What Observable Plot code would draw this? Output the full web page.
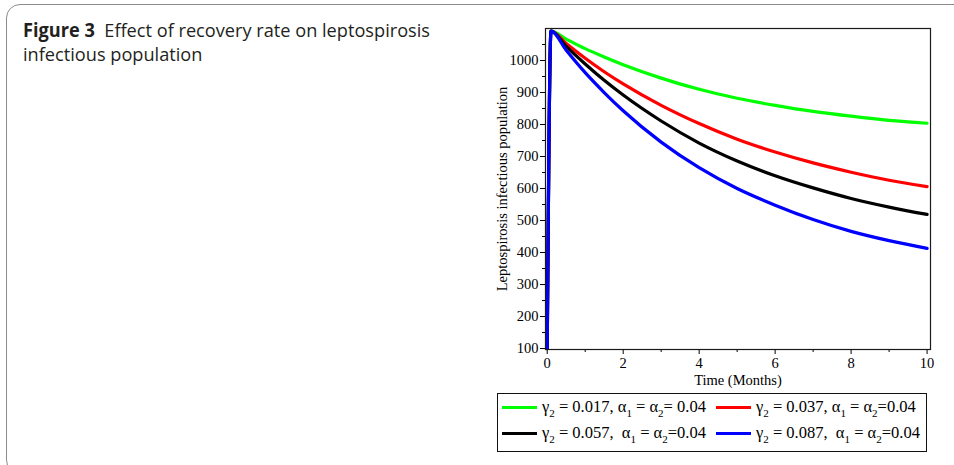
<!DOCTYPE html>
<html>
<head>
<meta charset="utf-8">
<script src="https://cdn.jsdelivr.net/npm/d3@7"></script>
<script src="https://cdn.jsdelivr.net/npm/@observablehq/plot@0.6"></script>
<style>
  html, body { margin: 0; padding: 0; background: #fff; }
  body { width: 954px; height: 465px; overflow: hidden; position: relative; }
  #card { position: absolute; left: 6px; top: 4px; width: 1000px; height: 470px;
          border: 1px solid #8c8c8c; border-radius: 14px; box-sizing: border-box; }
  #title { position: absolute; left: 23px; top: 18px; font-family: "Open Sans", sans-serif;
           font-size: 19px; line-height: 24px; color: #231f20; white-space: nowrap; transform-origin: left top; }
  #title b { font-weight: 700; }
  #chart { position: absolute; left: 470px; top: 0px; }
  #legend { position: absolute; left: 497px; top: 393px; width: 430px; height: 59px;
            border: 1.3px solid #111; box-sizing: border-box; font-family: "Liberation Serif", serif;
            font-size: 16.5px; color: #000; }
  .swatch { position: absolute; height: 3px; width: 35px; }
  .lab { position: absolute; line-height: 16px; white-space: nowrap; }
  .lab sub { font-size: 11px; vertical-align: -5px; line-height: 0; }
</style>
</head>
<body>
<div id="card"></div>
<div id="title"><span id="l1"><b>Figure 3</b>&nbsp; Effect of recovery rate on leptospirosis</span><br><span id="l2">infectious population</span></div>
<div id="chart"></div>
<div id="legend"></div>
<script>
// ---- data ----
const time  = [0, 0.1, 0.5, 1, 1.5, 2, 3, 4, 5, 6, 7, 8, 9, 10];
const green = [100, 1092, 1067, 1037, 1011, 987, 945, 910, 882, 860, 841, 826, 813, 804];
const red   = [100, 1092, 1053, 1007, 965, 927, 860, 803, 754, 714, 680, 651, 626, 606];
const black = [100, 1092, 1044, 989, 938, 892, 811, 742, 686, 640, 602, 569, 542, 519];
const blue  = [100, 1092, 1032, 962, 900, 843, 745, 665, 600, 548, 503, 466, 437, 413];

const seriesNames = ["g017", "g037", "g057", "g087"];
const seriesColors = ["#00ff00", "#ff0000", "#000000", "#0000ff"];
const seriesLabels = [
  "γ<sub>2</sub> = 0.017, α<sub>1</sub> = α<sub>2</sub>= 0.04",
  "γ<sub>2</sub> = 0.037, α<sub>1</sub> = α<sub>2</sub>=0.04",
  "γ<sub>2</sub> = 0.057,&nbsp; α<sub>1</sub> = α<sub>2</sub>=0.04",
  "γ<sub>2</sub> = 0.087,&nbsp; α<sub>1</sub> = α<sub>2</sub>=0.04"
];
const xMajor = [0, 2, 4, 6, 8, 10];
const xMinor = [1, 3, 5, 7, 9];
const yMajor = [100, 200, 300, 400, 500, 600, 700, 800, 900, 1000];
const yMinor = [150, 250, 350, 450, 550, 650, 750, 850, 950, 1050];
const xLabel = "Time (Months)";
const yLabel = "Leptospirosis infectious population";

// ---- build table ----
const seriesValues = [green, red, black, blue];
const rows = [];
seriesValues.forEach((vals, i) => {
  vals.forEach((v, j) => rows.push({series: seriesNames[i], t: time[j], v}));
});

const chart = Plot.plot({
  width: 484,
  height: 392,
  marginLeft: 75,
  marginRight: 24,
  marginTop: 28,
  marginBottom: 43,
  style: {fontFamily: "Liberation Serif, serif", fontSize: "14px", color: "#000", background: "transparent"},
  x: {domain: [-0.045, 10.09]},
  y: {domain: [97, 1100]},
  color: {domain: seriesNames, range: seriesColors},
  marks: [
    Plot.axisX({ticks: xMajor, tickSize: 5, tickPadding: 3, tickFormat: d => String(d), label: null, fontSize: 14.5}),
    Plot.axisX({ticks: xMinor, tickSize: 3, tickFormat: () => "", label: null}),
    Plot.axisY({ticks: yMajor, tickSize: 5, tickPadding: 2, tickFormat: d => String(d), label: null, fontSize: 14.5}),
    Plot.axisY({ticks: yMinor, tickSize: 3, tickFormat: () => "", label: null}),
    Plot.line(rows, {x: "t", y: "v", z: "series", stroke: "series", strokeWidth: 3.2, curve: "monotone-x"}),
    Plot.frame({stroke: "#1a1a1a", strokeWidth: 1.2}),
    Plot.text([xLabel], {frameAnchor: "bottom", lineAnchor: "middle", dy: 31, text: d => d, fontSize: 14.5}),
    Plot.text([yLabel], {frameAnchor: "left", textAnchor: "middle", dx: -43, rotate: -90, text: d => d, fontSize: 14.5})
  ]
});
document.getElementById("chart").appendChild(chart);

// ---- legend ----
const legend = document.getElementById("legend");
const pos = [[0, 0], [1, 0], [0, 1], [1, 1]];
seriesNames.forEach((name, i) => {
  const [c, r] = pos[i];
  const sw = document.createElement("div");
  sw.className = "swatch";
  sw.style.background = seriesColors[i];
  sw.style.left = (c ? 218 : 4) + "px";
  sw.style.top = (r ? 38 : 12) + "px";
  legend.appendChild(sw);
  const lab = document.createElement("div");
  lab.className = "lab";
  lab.innerHTML = seriesLabels[i];
  lab.style.left = (c ? 258 : 44) + "px";
  lab.style.top = (r ? 31 : 5) + "px";
  legend.appendChild(lab);
});

// ---- fit title width to reference ----
const l1 = document.getElementById("l1");
const w = l1.getBoundingClientRect().width;
const s = 407 / w;
document.getElementById("title").style.transform = `scaleX(${s})`;
</script>
</body>
</html>
